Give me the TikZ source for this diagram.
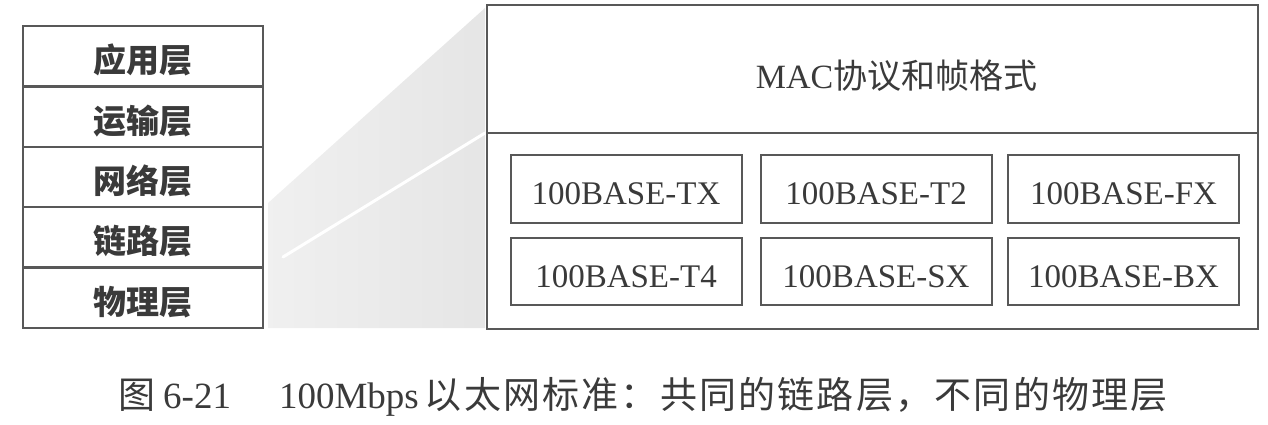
\documentclass[tikz,border=0pt]{standalone}
\usepackage{fontspec}
\setmainfont{Liberation Serif}
\newfontfamily\cjk{Noto Sans CJK SC}
\newfontfamily\cjkcap[LetterSpace=6.0]{Noto Sans CJK SC}
\definecolor{linecol}{RGB}{88,88,88}
\definecolor{textcol}{RGB}{58,58,58}
\tikzset{
  layerbox/.style={draw=linecol, line width=2.4pt, minimum width=240pt, minimum height=60.4pt,
    inner sep=0pt, text height=33pt, text depth=0pt, text=textcol,
    font=\fontsize{33}{38}\selectfont\cjk\bfseries},
  bigbox/.style={draw=linecol, line width=2.4pt, inner sep=0pt, text=textcol},
  phybox/.style={draw=linecol, line width=2pt, minimum width=231pt, minimum height=67.5pt,
    inner sep=0pt, text height=30pt, text depth=0pt, text=textcol, font=\fontsize{33}{38}\selectfont},
  captext/.style={inner sep=0pt, text=textcol, font=\fontsize{37}{42}\selectfont}
}
\begin{document}
\begin{tikzpicture}[x=1pt, y=-1pt]
\useasboundingbox (0,0) rectangle (1268,424);
% wedge
\coordinate (wtr) at (485,8);
\coordinate (wtl) at (268,203);
\coordinate (wbl) at (268,328);
\coordinate (wbr) at (485,328);
\shade[left color=gray!12, right color=gray!20] (wtr) -- (wtl) -- (wbl) -- (wbr) -- cycle;
\coordinate (wl1) at (485,133);
\coordinate (wl2) at (283,257);
\draw[white, line width=3pt, line cap=round] (wl1) -- (wl2);
% left stack
\node[layerbox] (app) at (143,56.2) {应用层};
\node[layerbox] (trans) at (143,116.6) {运输层};
\node[layerbox] (net) at (143,177.0) {网络层};
\node[layerbox] (link) at (143,237.4) {链路层};
\node[layerbox] (phys) at (143,297.8) {物理层};
% right boxes
\node[bigbox, minimum width=771pt, minimum height=128pt, text height=38pt, text depth=0pt,
  font=\fontsize{34}{40}\selectfont] (mac) at (872.5,69) {\hspace*{48pt}MAC{\cjk 协议和帧格式}};
\node[bigbox, minimum width=771pt, minimum height=196pt] (phy) at (872.5,231) {};
\node[phybox] (tx) at (626,189) {100BASE-TX};
\node[phybox] (t2) at (876,189) {100BASE-T2};
\node[phybox] (fx) at (1123.5,189) {100BASE-FX};
\node[phybox, text height=31pt] (t4) at (626,271.5) {100BASE-T4};
\node[phybox, text height=31pt] (sx) at (876,271.5) {100BASE-SX};
\node[phybox, text height=31pt] (bx) at (1123.5,271.5) {100BASE-BX};
% caption
\node[captext, anchor=base west] (cap) at (118,408)
  {{\cjk 图}\hspace{8pt}6-21\hspace{48pt}100Mbps\hspace{6pt}{\cjkcap 以太网标准：共同的链路层，不同的物理层}};
\end{tikzpicture}
\end{document}
